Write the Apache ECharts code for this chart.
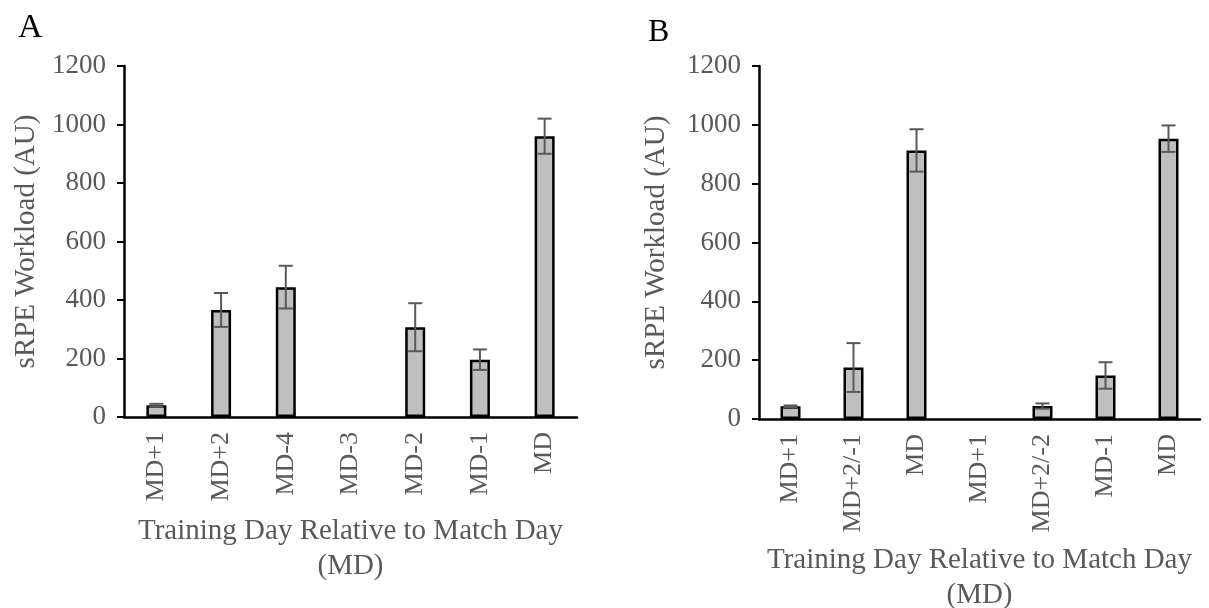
<!DOCTYPE html>
<html>
<head>
<meta charset="utf-8">
<script src="https://cdn.jsdelivr.net/npm/echarts@6/dist/echarts.min.js"></script>
<style>
html, body { margin:0; padding:0; background:#fff; }
#main { width:1209px; height:608px; }
</style>
</head>
<body>
<div id="main"></div>
<script>
// panel A
var catsA = ['MD+1', 'MD+2', 'MD-4', 'MD-3', 'MD-2', 'MD-1', 'MD'];
var meanA = [40, 366, 444, 0, 307, 196, 960];
var errA  = [5, 58, 73, 0, 82, 35, 60];
// panel B
var catsB = ['MD+1', 'MD+2/-1', 'MD', 'MD+1', 'MD+2/-2', 'MD-1', 'MD'];
var meanB = [43, 175, 913, 0, 44, 148, 953];
var errB  = [3, 83, 72, 0, 9, 45, 45];

var font = "'Liberation Serif', 'Times New Roman', serif";
var grey = '#595959';

function errData(means, errs){
	var out = [];
	for (var i = 0; i < means.length; i++) {
		out.push([i, means[i], errs[i]]);
	}
	return out;
}

// no bar drawn where the value is zero
function barData(means){
	return means.map(function(v){ return v === 0 ? '-' : v; });
}

function renderErr(params, api){
	var e = api.value(2);
	if (!e) return;
	var x = api.value(0), m = api.value(1);
	var hi = api.coord([x, m + e]);
	var lo = api.coord([x, m - e]);
	var half = 7;
	var st = { stroke: grey, lineWidth: 2 };
	return {
		type: 'group',
		children: [
			{ type: 'line', shape: { x1: hi[0], y1: hi[1], x2: lo[0], y2: lo[1] }, style: st },
			{ type: 'line', shape: { x1: hi[0] - half, y1: hi[1], x2: hi[0] + half, y2: hi[1] }, style: st },
			{ type: 'line', shape: { x1: lo[0] - half, y1: lo[1], x2: lo[0] + half, y2: lo[1] }, style: st }
		]
	};
}

function xAxisFor(idx, cats, gap){
	return {
		type: 'category',
		gridIndex: idx,
		data: cats,
		axisLine: { lineStyle: { color: '#000', width: 2.5 } },
		axisTick: { show: false },
		axisLabel: { rotate: 90, margin: 15, color: grey, fontSize: 26, fontFamily: font },
		name: 'Training Day Relative to Match Day\n(MD)',
		nameLocation: 'middle',
		nameGap: gap,
		nameTextStyle: { color: grey, fontSize: 29, fontFamily: font, lineHeight: 35 }
	};
}

function yAxisFor(idx, gap){
	return {
		type: 'value',
		gridIndex: idx,
		min: 0,
		max: 1200,
		interval: 200,
		axisLine: { show: true, lineStyle: { color: '#000', width: 2.5 } },
		axisTick: { show: true, length: 7, lineStyle: { color: '#000', width: 2 } },
		splitLine: { show: false },
		axisLabel: { margin: 18, color: grey, fontSize: 27, fontFamily: font, formatter: function(v){ return String(v); } },
		name: 'sRPE Workload (AU)',
		nameLocation: 'middle',
		nameGap: gap,
		nameTextStyle: { color: grey, fontSize: 29, fontFamily: font }
	};
}

var barStyle = { color: '#bfbfbf', borderColor: '#000', borderWidth: 2.5 };

var dom = document.getElementById('main');
var myChart = echarts.init(dom);
var option = {
	backgroundColor: '#fff',
	animation: false,
	title: [
		{ text: 'A', left: 13, top: 6, textStyle: { color: '#000', fontSize: 34, fontWeight: 'normal', fontFamily: font } },
		{ text: 'B', left: 643, top: 12, textStyle: { color: '#000', fontSize: 32, fontWeight: 'normal', fontFamily: font } }
	],
	grid: [
		{ left: 124, width: 453, top: 66, height: 351, outerBoundsMode: 'none', containLabel: false },
		{ left: 759, width: 441, top: 66, height: 353, outerBoundsMode: 'none', containLabel: false }
	],
	xAxis: [xAxisFor(0, catsA, 97), xAxisFor(1, catsB, 124)],
	yAxis: [yAxisFor(0, 83), yAxisFor(1, 88)],
	series: [
		{ type: 'bar', xAxisIndex: 0, yAxisIndex: 0, data: barData(meanA), barWidth: 20, itemStyle: barStyle },
		{ type: 'bar', xAxisIndex: 1, yAxisIndex: 1, data: barData(meanB), barWidth: 20, itemStyle: barStyle },
		{ type: 'custom', xAxisIndex: 0, yAxisIndex: 0, data: errData(meanA, errA), renderItem: renderErr, z: 10 },
		{ type: 'custom', xAxisIndex: 1, yAxisIndex: 1, data: errData(meanB, errB), renderItem: renderErr, z: 10 }
	]
};
myChart.setOption(option, true);
</script>
</body>
</html>
